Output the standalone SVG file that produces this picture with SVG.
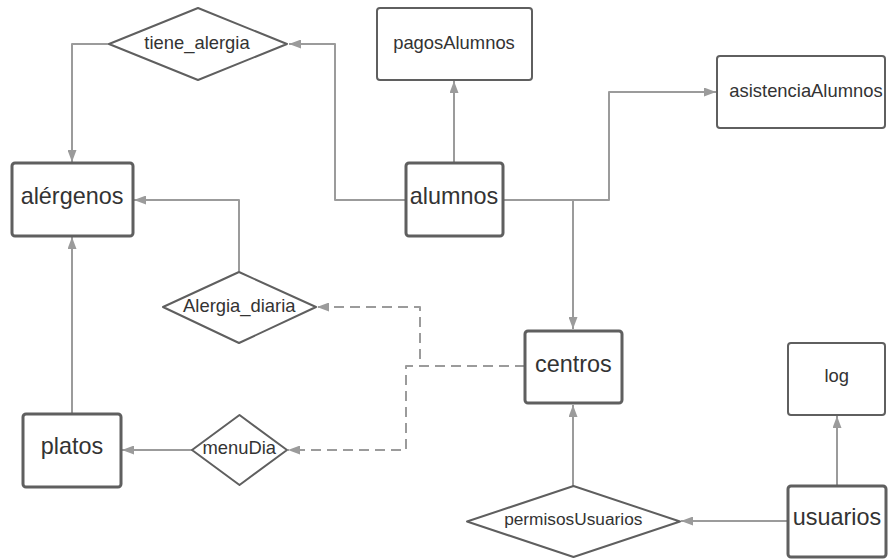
<svg xmlns="http://www.w3.org/2000/svg" width="888" height="559" viewBox="0 0 888 559">
<style>
.box{fill:#fff;stroke:#5f5f5f;stroke-width:3}
.thin{fill:#fff;stroke:#5f5f5f;stroke-width:2}
.dia{fill:#fff;stroke:#5f5f5f;stroke-width:2;stroke-linejoin:round}
.c{fill:none;stroke:#9b9b9b;stroke-width:2;stroke-linejoin:round}
.d{stroke-dasharray:10 6}
text{font-family:"Liberation Sans",Arial,sans-serif;fill:#333;text-anchor:middle}
.big{font-size:23.4px}
.sm{font-size:18.4px}
</style>
<defs>
<marker id="ah" markerUnits="userSpaceOnUse" markerWidth="12" markerHeight="9" refX="12" refY="4.5" orient="auto">
<path d="M0,0 L12,4.5 L0,9 z" fill="#9b9b9b"/>
</marker>
</defs>
<g id="connectors">
<path class="c" d="M406,200 H335 V44 H289" marker-end="url(#ah)"/>
<path class="c" d="M109,44 H72 V162" marker-end="url(#ah)"/>
<path class="c" d="M239,271 V200 H134" marker-end="url(#ah)"/>
<path class="c" d="M72,414 V237" marker-end="url(#ah)"/>
<path class="c" d="M454,163 V81" marker-end="url(#ah)"/>
<path class="c" d="M503,200 H609 V92 H716" marker-end="url(#ah)"/>
<path class="c" d="M573,200 V329" marker-end="url(#ah)"/>
<path class="c d" d="M525,366 H420 V307 H317" marker-end="url(#ah)"/>
<path class="c d" d="M525,366 H406 V450 H288" marker-end="url(#ah)"/>
<path class="c" d="M192,450 H122" marker-end="url(#ah)"/>
<path class="c" d="M573,486 V405" marker-end="url(#ah)"/>
<path class="c" d="M787,521 H681" marker-end="url(#ah)"/>
<path class="c" d="M837,486 V416" marker-end="url(#ah)"/>
</g>
<g id="tiene_alergia">
<polygon class="dia" points="109,44 198,8 287,44 198,80"/>
<text class="sm" x="197" y="49">tiene_alergia</text>
</g>
<g id="alergenos">
<rect class="box" x="12" y="163" width="121" height="73" rx="3"/>
<text class="big" x="72" y="204">alérgenos</text>
</g>
<g id="pagosAlumnos">
<rect class="thin" x="377" y="8" width="155" height="72" rx="3"/>
<text class="sm" x="454" y="48.5">pagosAlumnos</text>
</g>
<g id="asistenciaAlumnos">
<rect class="thin" x="717" y="56" width="168" height="72" rx="3"/>
<text class="sm" x="806" y="97">asistenciaAlumnos</text>
</g>
<g id="alumnos">
<rect class="box" x="406" y="163" width="97" height="73" rx="3"/>
<text class="big" x="454" y="204">alumnos</text>
</g>
<g id="Alergia_diaria">
<polygon class="dia" points="163,307 239,272 316,307 239,343"/>
<text class="sm" x="239.3" y="311.7">Alergia_diaria</text>
</g>
<g id="centros">
<rect class="box" x="525" y="331" width="97" height="72" rx="3"/>
<text class="big" x="573.3" y="371.7">centros</text>
</g>
<g id="log">
<rect class="thin" x="788" y="343" width="97" height="72" rx="3"/>
<text class="sm" x="836.7" y="381.7">log</text>
</g>
<g id="platos">
<rect class="box" x="23" y="414" width="98" height="73" rx="3"/>
<text class="big" x="72" y="454">platos</text>
</g>
<g id="menuDia">
<polygon class="dia" points="192,450 239.5,415 287,450 239.5,485"/>
<text class="sm" x="239.3" y="454">menuDia</text>
</g>
<g id="permisosUsuarios">
<polygon class="dia" points="467,521.5 573.5,486 680,521.5 573.5,557"/>
<text class="sm" x="573.3" y="525" style="font-size:17.3px">permisosUsuarios</text>
</g>
<g id="usuarios">
<rect class="box" x="788" y="486" width="98" height="71" rx="3"/>
<text class="big" x="837" y="525">usuarios</text>
</g>
</svg>
